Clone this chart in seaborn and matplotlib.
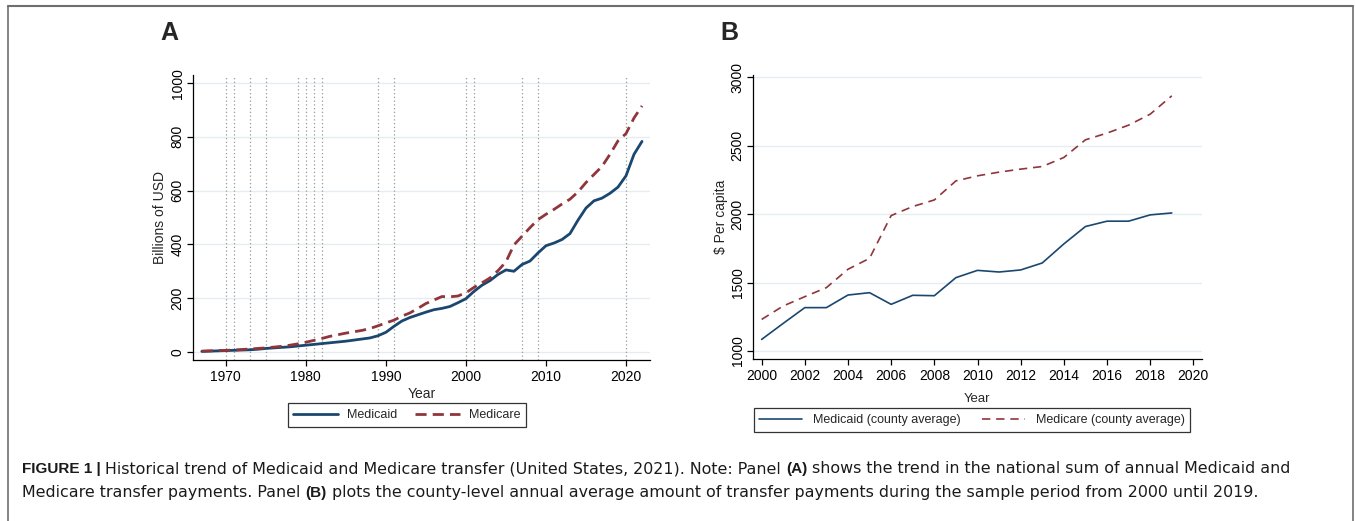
import matplotlib
matplotlib.use("Agg")
import matplotlib.pyplot as plt
from matplotlib.lines import Line2D
import seaborn as sns
import pandas as pd

# ---------------- data ----------------
years_a = list(range(1967, 2023))
medicaid_a = [2, 3, 4, 5, 6, 7, 8, 10, 13, 15, 17, 19, 22, 25, 28, 31, 34, 37, 40, 44, 48, 52, 60, 73,
              95, 115, 128, 138, 148, 157, 162, 169, 183, 198, 225, 248, 265, 288, 305, 300, 325, 338,
              368, 395, 405, 418, 440, 490, 535, 562, 572, 590, 613, 655, 735, 783]
medicare_a = [3, 4, 5, 6, 7, 9, 11, 13, 15, 18, 21, 25, 30, 36, 43, 50, 58, 64, 70, 75, 80, 87, 97, 108,
              118, 133, 145, 162, 180, 193, 206, 205, 208, 220, 240, 257, 275, 302, 335, 398, 430, 462,
              492, 512, 530, 550, 568, 595, 630, 660, 690, 735, 785, 812, 870, 915]
recession_years = [1970, 1971, 1973, 1975, 1979, 1980, 1981, 1982, 1989, 1991, 2000, 2001, 2007, 2009, 2020]

years_b = list(range(2000, 2020))
medicaid_b = [1085, 1202, 1317, 1317, 1409, 1426, 1341, 1407, 1404, 1536, 1589, 1577, 1592, 1643, 1782,
              1909, 1948, 1948, 1994, 2008]
medicare_b = [1231, 1329, 1397, 1463, 1597, 1677, 1989, 2055, 2103, 2242, 2279, 2306, 2328, 2347, 2413,
              2542, 2591, 2649, 2729, 2863]

xticks_a = [1970, 1980, 1990, 2000, 2010, 2020]
yticks_a = [0, 200, 400, 600, 800, 1000]
xticks_b = list(range(2000, 2021, 2))
yticks_b = [1000, 1500, 2000, 2500, 3000]

labels_a = ["Medicaid", "Medicare"]
labels_b = ["Medicaid (county average)", "Medicare (county average)"]

NAVY = "#1a476f"
MAROON = "#90353b"
GRID = "#e6edf0"

# ---------------- style ----------------
sns.set_theme(style="white")
plt.rcParams["font.family"] = ["Liberation Sans", "DejaVu Sans"]
plt.rcParams["font.size"] = 10

W, H = 1356, 521
fig = plt.figure(figsize=(W / 100, H / 100), dpi=100)
fig.patch.set_facecolor("white")


def px_axes(l, r, t, b):
    return fig.add_axes([l / W, 1 - b / H, (r - l) / W, (b - t) / H])


def style_axes(ax, xticks, yticks):
    for s in ["top", "right"]:
        ax.spines[s].set_visible(False)
    for s in ["left", "bottom"]:
        ax.spines[s].set_color("black")
        ax.spines[s].set_linewidth(0.9)
    ax.set_xticks(xticks)
    ax.set_yticks(yticks)
    ax.tick_params(axis="both", direction="out", length=4.5, width=0.9, color="black",
                   labelsize=10, labelcolor="black", bottom=True, left=True, pad=3)
    ax.tick_params(axis="y", pad=1.5)
    for lab in ax.get_yticklabels():
        lab.set_rotation(90)
        lab.set_va("center")
    for y in yticks:
        ax.axhline(y, color=GRID, lw=1.0, zorder=0)
    ax.grid(False)


# ---------------- Panel A ----------------
axA = px_axes(193, 650, 75, 360)
dfA = pd.DataFrame({
    "Year": years_a * 2,
    "value": medicaid_a + medicare_a,
    "series": [labels_a[0]] * len(years_a) + [labels_a[1]] * len(years_a),
})
for yr in recession_years:
    axA.axvline(yr, color="#9a9a9a", lw=0.9, ls=(0, (1, 2)), zorder=1)
sns.lineplot(data=dfA[dfA.series == labels_a[0]], x="Year", y="value", ax=axA,
             color=NAVY, lw=2.0, label=labels_a[0], zorder=3)
sns.lineplot(data=dfA[dfA.series == labels_a[1]], x="Year", y="value", ax=axA,
             color=MAROON, lw=2.0, ls=(0, (4, 2.2)), label=labels_a[1], zorder=3)
axA.set_xlim(1965.9, 2023.0)
axA.set_ylim(-30, 1030)
style_axes(axA, xticks_a, yticks_a)
axA.set_xlabel("Year", fontsize=10, labelpad=2)
axA.set_ylabel("Billions of USD", fontsize=10)
axA.yaxis.set_label_coords((167 - 193) / 457, 0.5)
handles, labs = axA.get_legend_handles_labels()
axA.get_legend().remove()
fig.legend(handles, labs, loc="center", bbox_to_anchor=(407 / W, 1 - 415 / H), ncol=2,
           frameon=True, fancybox=False, edgecolor="black", fontsize=9,
           handlelength=3.6, columnspacing=1.45, handletextpad=0.7, borderpad=0.45)
fig.legends[-1].get_frame().set_linewidth(0.9)

# ---------------- Panel B ----------------
axB = px_axes(753, 1202, 75, 359)
dfB = pd.DataFrame({
    "Year": years_b * 2,
    "value": medicaid_b + medicare_b,
    "series": [labels_b[0]] * len(years_b) + [labels_b[1]] * len(years_b),
})
sns.lineplot(data=dfB[dfB.series == labels_b[0]], x="Year", y="value", ax=axB,
             color=NAVY, lw=1.2, label=labels_b[0], zorder=3)
sns.lineplot(data=dfB[dfB.series == labels_b[1]], x="Year", y="value", ax=axB,
             color=MAROON, lw=1.2, ls=(0, (5, 3.5)), label=labels_b[1], zorder=3)
axB.set_xlim(1999.6, 2020.4)
axB.set_ylim(942, 3015)
style_axes(axB, xticks_b, yticks_b)
axB.set_xlabel("Year", fontsize=9.5, labelpad=7)
axB.set_ylabel("$ Per capita", fontsize=10)
axB.yaxis.set_label_coords((728 - 753) / 449, 0.5)
handles, labs = axB.get_legend_handles_labels()
axB.get_legend().remove()
fig.legend(handles, labs, loc="center", bbox_to_anchor=(972 / W, 1 - 420 / H), ncol=2,
           frameon=True, fancybox=False, edgecolor="black", fontsize=9,
           handlelength=3.4, columnspacing=1.7, handletextpad=0.9, borderpad=0.45)
fig.legends[-1].get_frame().set_linewidth(0.9)

# ---------------- panel letters ----------------
fig.text(160 / W, 1 - 33 / H, "A", fontsize=18, fontweight="bold", va="center", ha="left")
fig.text(720 / W, 1 - 33 / H, "B", fontsize=18, fontweight="bold", va="center", ha="left")

# ---------------- border ----------------
bc = "#6e6e6e"
fig.add_artist(Line2D([8 / W, 1353 / W], [1 - 6 / H, 1 - 6 / H], color=bc, lw=1.5))
fig.add_artist(Line2D([8 / W, 8 / W], [0, 1 - 6 / H], color=bc, lw=1.2))
fig.add_artist(Line2D([1353 / W, 1353 / W], [0, 1 - 6 / H], color=bc, lw=1.2))

# ---------------- caption ----------------
fig.canvas.draw()
renderer = fig.canvas.get_renderer()


def rich_line(x_px, y_px, parts):
    x = x_px
    for txt, bold in parts:
        if bold:
            kw = dict(fontsize=11, fontweight="bold", family=["Liberation Sans", "DejaVu Sans"])
        else:
            kw = dict(fontsize=11.4, fontweight="normal", family=["DejaVu Sans"])
        t = fig.text(x / W, 1 - y_px / H, txt, va="baseline", ha="left", color="#1a1a1a", **kw)
        bb = t.get_window_extent(renderer=renderer)
        x += bb.width


rich_line(22, 473, [("FIGURE 1 | ", True),
                    ("Historical trend of Medicaid and Medicare transfer (United States, 2021). Note: Panel ", False),
                    ("(A)", True),
                    (" shows the trend in the national sum of annual Medicaid and", False)])
rich_line(22, 497, [("Medicare transfer payments. Panel ", False),
                    ("(B)", True),
                    (" plots the county-level annual average amount of transfer payments during the sample period from 2000 until 2019.", False)])

fig.savefig("out.png", dpi=100, facecolor="white")
